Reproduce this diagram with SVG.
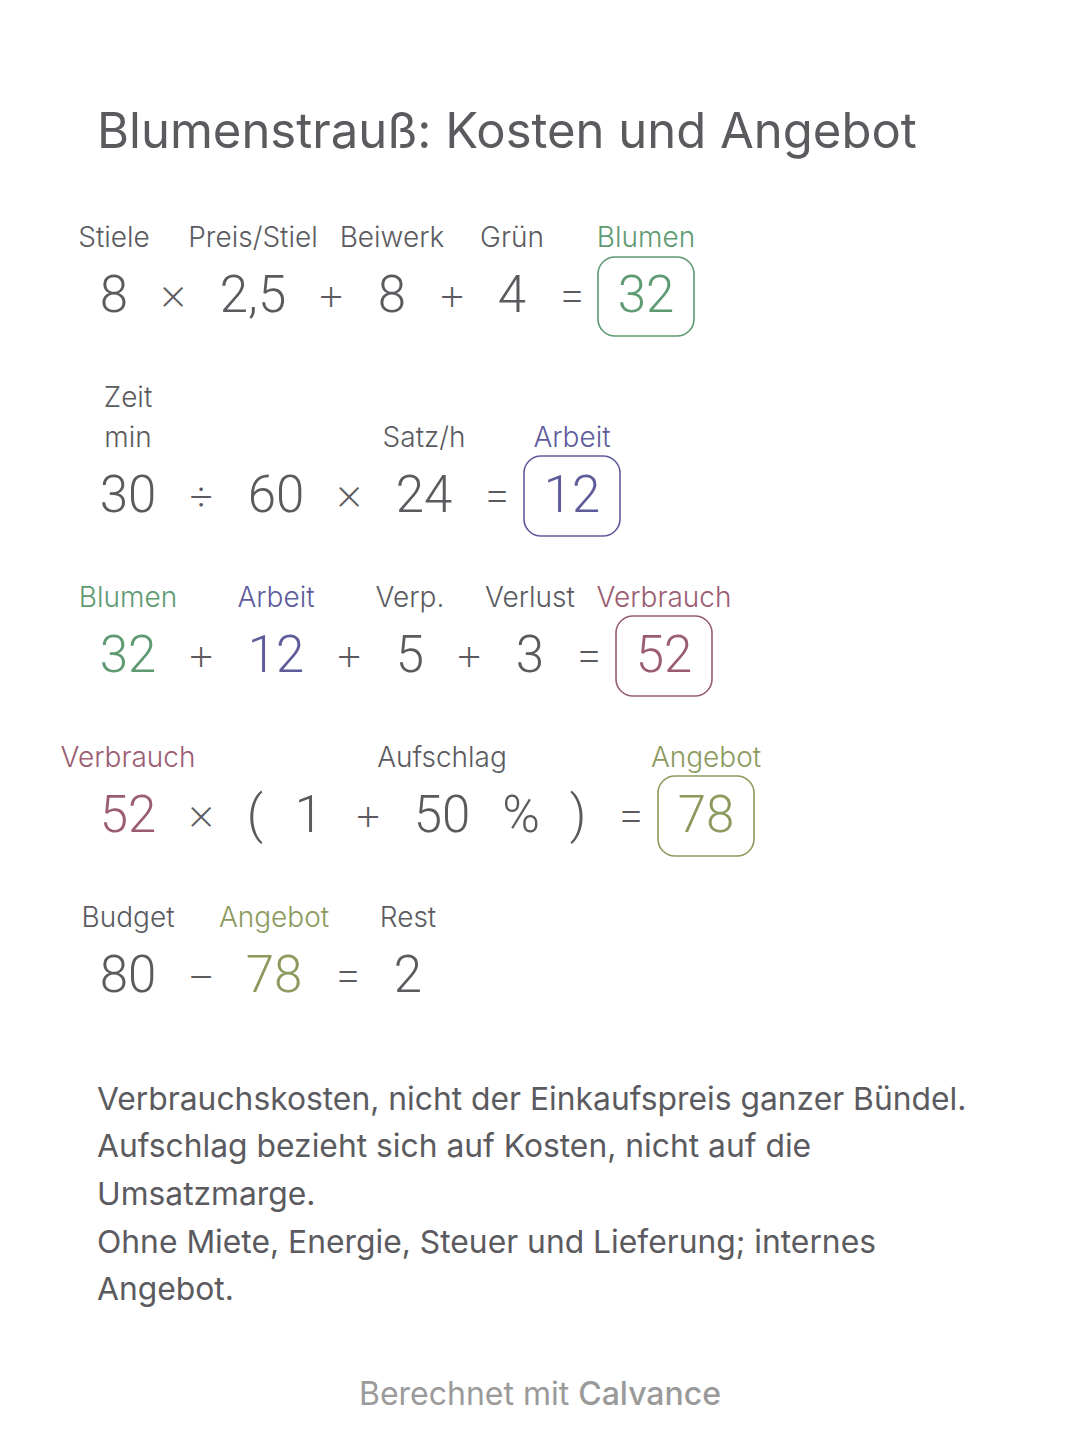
<svg xmlns="http://www.w3.org/2000/svg" width="1080" height="1456" viewBox="0 0 1080 1456">
<style>
text{font-family:Inter,Roboto,"Liberation Sans",sans-serif;fill:#5b5b5f}
.t{font-size:49px;font-weight:400}
.l{font-size:28px;font-weight:300;text-anchor:middle}
.n{font-family:Roboto,Inter,sans-serif;font-size:51px;font-weight:300;text-anchor:middle}
.o{font-size:46px;font-weight:200;text-anchor:middle}
.b{font-size:31.8px;font-weight:400}
.f{font-size:32px;fill:#9a9a9a;text-anchor:middle}
.g{fill:#5e9a72}.p{fill:#5f5c9c}.m{fill:#9a5c72}.v{fill:#8c9a5e}
.box{fill:none;stroke-width:1.6}
</style>
<rect width="1080" height="1456" fill="#ffffff"/>
<g id="title"><text class="t" x="97" y="148">Blumenstrauß: Kosten und Angebot</text></g>

<g id="row1">
<text class="l" x="114" y="247">Stiele</text>
<text class="l" x="253" y="247">Preis/Stiel</text>
<text class="l" x="392" y="247">Beiwerk</text>
<text class="l" x="512" y="247">Grün</text>
<text class="l g" x="646" y="247">Blumen</text>
<text class="n" x="114" y="312">8</text>
<text class="o" x="173" y="310">×</text>
<text class="n" x="253" y="312">2,5</text>
<text class="o" x="331" y="310">+</text>
<text class="n" x="392" y="312">8</text>
<text class="o" x="452" y="310">+</text>
<text class="n" x="512" y="312">4</text>
<text class="o" x="572" y="310">=</text>
<rect class="box" x="598" y="257" width="96" height="79" rx="17" stroke="#5e9a72"/>
<text class="n g" x="646" y="312">32</text>
</g>

<g id="row2">
<text class="l" x="128" y="407">Zeit</text>
<text class="l" x="128" y="447">min</text>
<text class="l" x="424" y="447">Satz/h</text>
<text class="l p" x="572" y="447">Arbeit</text>
<text class="n" x="128" y="512">30</text>
<text class="o" x="201" y="510">÷</text>
<text class="n" x="276" y="512">60</text>
<text class="o" x="349" y="510">×</text>
<text class="n" x="424" y="512">24</text>
<text class="o" x="497" y="510">=</text>
<rect class="box" x="524" y="456" width="96" height="80" rx="17" stroke="#5f5c9c"/>
<text class="n p" x="572" y="512">12</text>
</g>

<g id="row3">
<text class="l g" x="128" y="607">Blumen</text>
<text class="l p" x="276" y="607">Arbeit</text>
<text class="l" x="410" y="607">Verp.</text>
<text class="l" x="530" y="607">Verlust</text>
<text class="l m" x="664" y="607">Verbrauch</text>
<text class="n g" x="128" y="672">32</text>
<text class="o" x="201" y="670">+</text>
<text class="n p" x="276" y="672">12</text>
<text class="o" x="349" y="670">+</text>
<text class="n" x="410" y="672">5</text>
<text class="o" x="469" y="670">+</text>
<text class="n" x="530" y="672">3</text>
<text class="o" x="589" y="670">=</text>
<rect class="box" x="616" y="616" width="96" height="80" rx="17" stroke="#9a5c72"/>
<text class="n m" x="664" y="672">52</text>
</g>

<g id="row4">
<text class="l m" x="128" y="767">Verbrauch</text>
<text class="l" x="442" y="767">Aufschlag</text>
<text class="l v" x="706" y="767">Angebot</text>
<text class="n m" x="128" y="832">52</text>
<text class="o" x="201" y="830">×</text>
<text class="n" x="255" y="832">(</text>
<text class="n" x="309" y="832">1</text>
<text class="o" x="368" y="830">+</text>
<text class="n" x="442" y="832">50</text>
<text class="n" x="521" y="832">%</text>
<text class="n" x="578" y="832">)</text>
<text class="o" x="631" y="830">=</text>
<rect class="box" x="658" y="776" width="96" height="80" rx="17" stroke="#8c9a5e"/>
<text class="n v" x="706" y="832">78</text>
</g>

<g id="row5">
<text class="l" x="128" y="927">Budget</text>
<text class="l v" x="274" y="927">Angebot</text>
<text class="l" x="408" y="927">Rest</text>
<text class="n" x="128" y="992">80</text>
<text class="o" x="201" y="990">−</text>
<text class="n v" x="274" y="992">78</text>
<text class="o" x="348" y="990">=</text>
<text class="n" x="408" y="992">2</text>
</g>

<g id="notes">
<text class="b" x="97" y="1110">Verbrauchskosten, nicht der Einkaufspreis ganzer Bündel.</text>
<text class="b" x="97" y="1157">Aufschlag bezieht sich auf Kosten, nicht auf die</text>
<text class="b" x="97" y="1205">Umsatzmarge.</text>
<text class="b" x="97" y="1253">Ohne Miete, Energie, Steuer und Lieferung; internes</text>
<text class="b" x="97" y="1300">Angebot.</text>
</g>

<g id="footer"><text class="f" x="540" y="1405">Berechnet mit <tspan font-weight="500">Calvance</tspan></text></g>
</svg>
